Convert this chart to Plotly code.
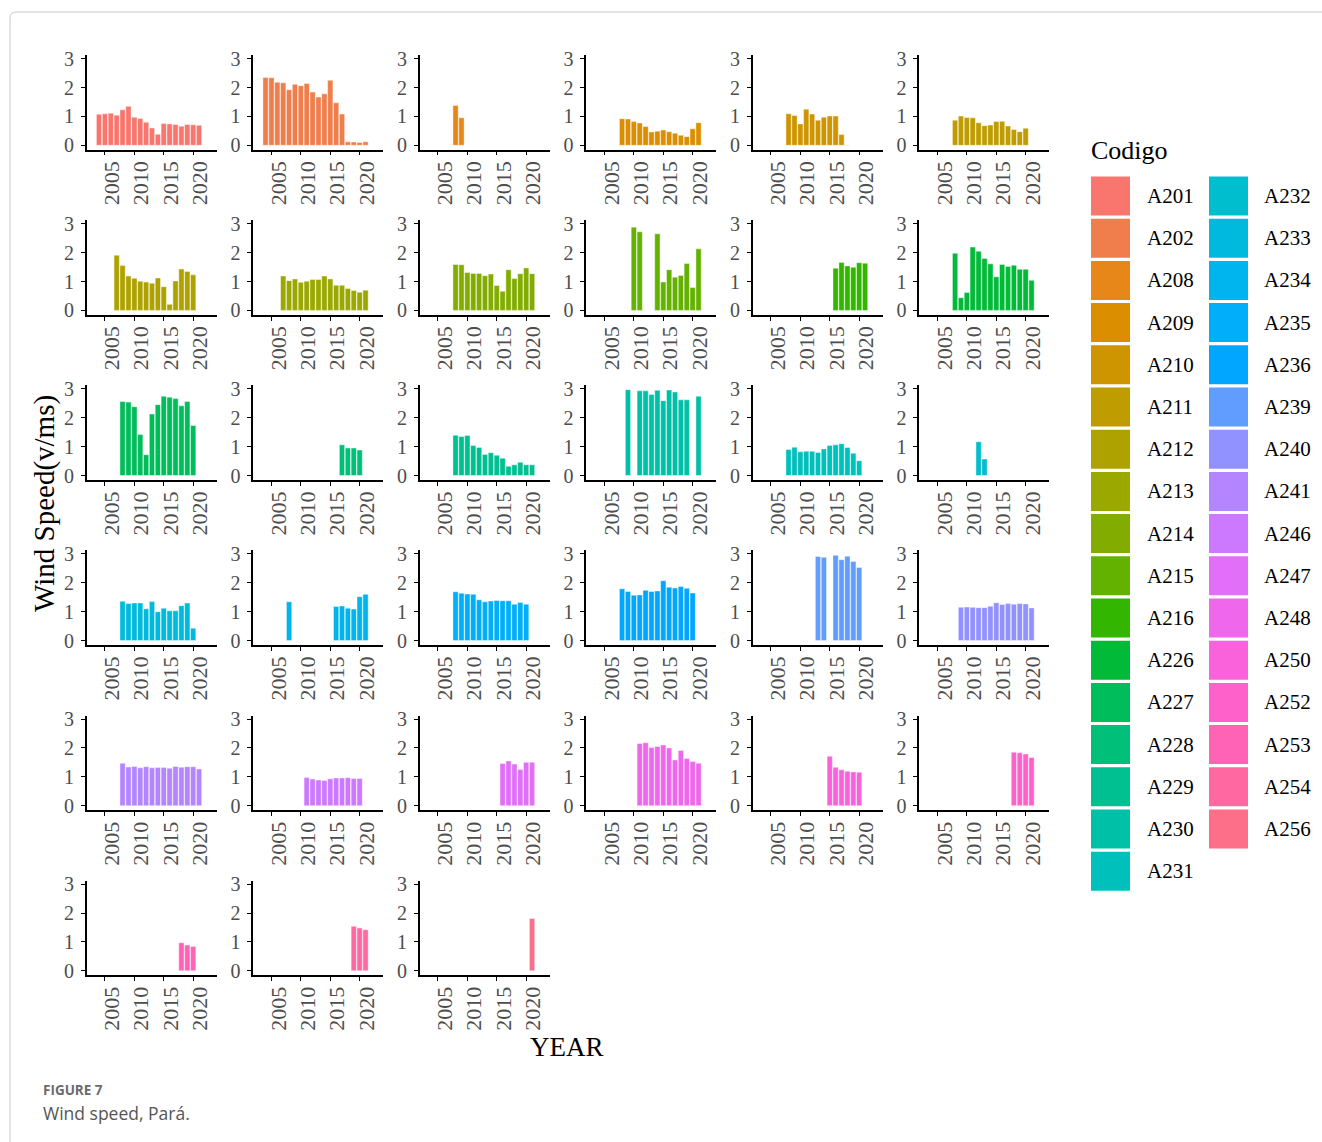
import math
import plotly.graph_objects as go

# ---- data: mean annual wind speed per station ----
codes = ["A201", "A202", "A208", "A209", "A210", "A211", "A212", "A213", "A214",
         "A215", "A216", "A226", "A227", "A228", "A229", "A230", "A231", "A232",
         "A233", "A234", "A235", "A236", "A239", "A240", "A241", "A246", "A247",
         "A248", "A250", "A252", "A253", "A254", "A256"]

A201_years = [2004, 2005, 2006, 2007, 2008, 2009, 2010, 2011, 2012, 2013, 2014, 2015, 2016, 2017, 2018, 2019, 2020, 2021]
A201_speed = [1.07, 1.09, 1.11, 1.04, 1.23, 1.35, 0.97, 0.93, 0.80, 0.60, 0.38, 0.75, 0.74, 0.72, 0.66, 0.72, 0.71, 0.69]
A202_years = [2004, 2005, 2006, 2007, 2008, 2009, 2010, 2011, 2012, 2013, 2014, 2015, 2016, 2017, 2018, 2019, 2020, 2021]
A202_speed = [2.35, 2.34, 2.18, 2.16, 1.92, 2.11, 2.06, 2.14, 1.84, 1.67, 1.78, 2.25, 1.47, 1.08, 0.12, 0.11, 0.10, 0.12]
A208_years = [2008, 2009]
A208_speed = [1.38, 0.95]
A209_years = [2008, 2009, 2010, 2011, 2012, 2013, 2014, 2015, 2016, 2017, 2018, 2019, 2020, 2021]
A209_speed = [0.92, 0.91, 0.82, 0.77, 0.65, 0.46, 0.49, 0.53, 0.47, 0.42, 0.35, 0.30, 0.57, 0.78]
A210_years = [2008, 2009, 2010, 2011, 2012, 2013, 2014, 2015, 2016, 2017, 2018]
A210_speed = [1.09, 1.03, 0.74, 1.25, 1.08, 0.87, 0.97, 1.01, 1.01, 0.37, 0.01]
A211_years = [2008, 2009, 2010, 2011, 2012, 2013, 2014, 2015, 2016, 2017, 2018, 2019, 2020]
A211_speed = [0.87, 1.01, 0.96, 0.95, 0.78, 0.68, 0.70, 0.82, 0.83, 0.67, 0.55, 0.47, 0.59]
A212_years = [2007, 2008, 2009, 2010, 2011, 2012, 2013, 2014, 2015, 2016, 2017, 2018, 2019, 2020]
A212_speed = [1.91, 1.55, 1.19, 1.11, 1.01, 0.98, 0.94, 1.12, 0.82, 0.21, 1.02, 1.43, 1.35, 1.23]
A213_years = [2007, 2008, 2009, 2010, 2011, 2012, 2013, 2014, 2015, 2016, 2017, 2018, 2019, 2020, 2021]
A213_speed = [1.19, 1.03, 1.09, 0.97, 1.01, 1.07, 1.07, 1.19, 1.09, 0.87, 0.87, 0.76, 0.69, 0.63, 0.70]
A214_years = [2008, 2009, 2010, 2011, 2012, 2013, 2014, 2015, 2016, 2017, 2018, 2019, 2020, 2021]
A214_speed = [1.59, 1.58, 1.31, 1.28, 1.28, 1.20, 1.26, 0.86, 0.66, 1.41, 1.10, 1.27, 1.47, 1.27]
A215_years = [2010, 2011, 2014, 2015, 2016, 2017, 2018, 2019, 2020, 2021]
A215_speed = [2.88, 2.72, 2.65, 0.98, 1.41, 1.15, 1.21, 1.62, 0.79, 2.13]
A216_years = [2016, 2017, 2018, 2019, 2020, 2021]
A216_speed = [1.46, 1.66, 1.54, 1.49, 1.65, 1.63]
A226_years = [2008, 2009, 2010, 2011, 2012, 2013, 2014, 2015, 2016, 2017, 2018, 2019, 2020, 2021]
A226_speed = [1.98, 0.44, 0.62, 2.19, 2.05, 1.80, 1.61, 1.16, 1.59, 1.52, 1.56, 1.42, 1.42, 1.04]
A227_years = [2008, 2009, 2010, 2011, 2012, 2013, 2014, 2015, 2016, 2017, 2018, 2019, 2020]
A227_speed = [2.56, 2.54, 2.38, 1.42, 0.72, 2.13, 2.45, 2.74, 2.71, 2.66, 2.41, 2.56, 1.73]
A228_years = [2017, 2018, 2019, 2020]
A228_speed = [1.06, 0.95, 0.95, 0.88]
A229_years = [2008, 2009, 2010, 2011, 2012, 2013, 2014, 2015, 2016, 2017, 2018, 2019, 2020, 2021]
A229_speed = [1.39, 1.35, 1.38, 1.04, 0.97, 0.73, 0.79, 0.70, 0.60, 0.32, 0.37, 0.46, 0.37, 0.37]
A230_years = [2009, 2011, 2012, 2013, 2014, 2015, 2016, 2017, 2018, 2019, 2021]
A230_speed = [2.97, 2.93, 2.93, 2.80, 2.95, 2.59, 2.96, 2.89, 2.62, 2.62, 2.74]
A231_years = [2008, 2009, 2010, 2011, 2012, 2013, 2014, 2015, 2016, 2017, 2018, 2019, 2020]
A231_speed = [0.90, 0.98, 0.82, 0.84, 0.84, 0.80, 0.92, 1.04, 1.06, 1.10, 0.97, 0.77, 0.51]
A232_years = [2012, 2013]
A232_speed = [1.17, 0.57]
A233_years = [2008, 2009, 2010, 2011, 2012, 2013, 2014, 2015, 2016, 2017, 2018, 2019, 2020]
A233_speed = [1.36, 1.28, 1.30, 1.30, 1.10, 1.35, 1.00, 1.12, 1.03, 1.03, 1.21, 1.30, 0.43]
A234_years = [2008, 2016, 2017, 2018, 2019, 2020, 2021]
A234_speed = [1.34, 1.18, 1.20, 1.12, 1.09, 1.52, 1.60]
A235_years = [2008, 2009, 2010, 2011, 2012, 2013, 2014, 2015, 2016, 2017, 2018, 2019, 2020]
A235_speed = [1.69, 1.64, 1.61, 1.60, 1.41, 1.34, 1.37, 1.39, 1.38, 1.38, 1.26, 1.32, 1.26]
A236_years = [2008, 2009, 2010, 2011, 2012, 2013, 2014, 2015, 2016, 2017, 2018, 2019, 2020]
A236_speed = [1.79, 1.70, 1.57, 1.58, 1.74, 1.70, 1.72, 2.07, 1.85, 1.82, 1.87, 1.81, 1.65]
A239_years = [2013, 2014, 2016, 2017, 2018, 2019, 2020]
A239_speed = [2.91, 2.88, 2.95, 2.80, 2.92, 2.74, 2.53]
A240_years = [2009, 2010, 2011, 2012, 2013, 2014, 2015, 2016, 2017, 2018, 2019, 2020, 2021]
A240_speed = [1.15, 1.16, 1.15, 1.14, 1.14, 1.19, 1.31, 1.25, 1.28, 1.26, 1.28, 1.27, 1.13]
A241_years = [2008, 2009, 2010, 2011, 2012, 2013, 2014, 2015, 2016, 2017, 2018, 2019, 2020, 2021]
A241_speed = [1.47, 1.34, 1.36, 1.31, 1.35, 1.31, 1.32, 1.32, 1.30, 1.36, 1.33, 1.35, 1.35, 1.27]
A246_years = [2011, 2012, 2013, 2014, 2015, 2016, 2017, 2018, 2019, 2020]
A246_speed = [0.98, 0.92, 0.89, 0.87, 0.93, 0.96, 0.96, 0.97, 0.94, 0.94]
A247_years = [2016, 2017, 2018, 2019, 2020, 2021]
A247_speed = [1.46, 1.55, 1.44, 1.25, 1.50, 1.50]
A248_years = [2011, 2012, 2013, 2014, 2015, 2016, 2017, 2018, 2019, 2020, 2021]
A248_speed = [2.15, 2.18, 2.01, 2.05, 2.10, 2.00, 1.58, 1.91, 1.63, 1.53, 1.47]
A250_years = [2015, 2016, 2017, 2018, 2019, 2020]
A250_speed = [1.71, 1.33, 1.24, 1.19, 1.17, 1.16]
A252_years = [2018, 2019, 2020, 2021]
A252_speed = [1.85, 1.83, 1.79, 1.67]
A253_years = [2018, 2019, 2020]
A253_speed = [0.97, 0.89, 0.84]
A254_years = [2019, 2020, 2021]
A254_speed = [1.54, 1.48, 1.42]
A256_years = [2021]
A256_speed = [1.81]

year_ticks = [2005, 2010, 2015, 2020]
speed_ticks = [0, 1, 2, 3]

series = {c: (globals()[c + "_years"], globals()[c + "_speed"]) for c in codes}


# ---- ggplot-style hue palette (HCL, c=100, l=65) ----
def hcl_to_hex(h, c=100.0, l=65.0):
    xn, yn, zn = 95.047, 100.0, 108.883
    hr = math.radians(h)
    u, v = c * math.cos(hr), c * math.sin(hr)
    y = yn * ((l + 16) / 116) ** 3 if l > 8 else yn * l / 903.3
    den = xn + 15 * yn + 3 * zn
    un, vn = 4 * xn / den, 9 * yn / den
    up, vp = u / (13 * l) + un, v / (13 * l) + vn
    x = 9 * y * up / (4 * vp)
    z = y * (12 - 3 * up - 20 * vp) / (4 * vp)
    x, y, z = x / 100, y / 100, z / 100
    rgb = [3.240479 * x - 1.537150 * y - 0.498535 * z,
           -0.969256 * x + 1.875992 * y + 0.041556 * z,
           0.055648 * x - 0.204043 * y + 1.057311 * z]
    out = []
    for ch in rgb:
        ch = 12.92 * ch if ch <= 0.0031308 else 1.055 * ch ** (1 / 2.4) - 0.055
        out.append(int(round(min(max(ch, 0), 1) * 255)))
    return "#%02X%02X%02X" % tuple(out)


n = len(codes)
palette = [hcl_to_hex((15 + 360 * i / n) % 360) for i in range(n)]

# ---- layout geometry (pixels) ----
W, H = 1322, 1142
SERIF = "Liberation Serif"
y_lo, y_hi = -0.15, 3.12
x_lo, x_hi = 2001.9, 2024.0
unit = 28.9            # px per m/s
col_left0, col_step, panel_w = 86.7, 166.5, 130.0
row_zero0, row_step = 145.3, 165.1


def px_x(p):
    return p / W


def px_y(p):
    return 1 - p / H


fig = go.Figure()
layout_axes = {}

for i, code in enumerate(codes):
    r, c = divmod(i, 6)
    k = "" if i == 0 else str(i + 1)
    yrs, spd = series[code]
    fig.add_trace(go.Bar(
        x=yrs, y=spd, width=0.9,
        marker=dict(color=palette[i], line=dict(color="rgba(255,255,255,0.7)", width=0.6)),
        xaxis="x" + k, yaxis="y" + k, showlegend=False, name=code,
    ))
    left = col_left0 + col_step * c
    zero = row_zero0 + row_step * r
    top = zero - y_hi * unit
    bottom = zero - y_lo * unit
    common = dict(showline=True, linecolor="black", linewidth=1.6, showgrid=False,
                  zeroline=False, ticks="outside", ticklen=4, tickwidth=1.4,
                  tickcolor="black", automargin=False)
    # vertical year labels sit just right of their tick (top-justified rotated text)
    layout_axes["xaxis" + k] = dict(
        domain=[px_x(left), px_x(left + panel_w)], anchor="y" + k,
        range=[x_lo, x_hi], tickvals=year_ticks, tickangle=-90,
        ticklabelstandoff=-3, ticklabelshift=7,
        tickfont=dict(family=SERIF, size=22, color="#4D4D4D"), **common)
    layout_axes["yaxis" + k] = dict(
        domain=[px_y(bottom), px_y(top)], anchor="x" + k,
        range=[y_lo, y_hi], tickvals=speed_ticks, ticklabelstandoff=3,
        tickfont=dict(family=SERIF, size=20, color="#4D4D4D"), **common)

fig.update_layout(**layout_axes)

# ---- legend: two columns of colour keys ----
shapes = []
annotations = []
key_x = [1091, 1209]
lab_x = [1145, 1262]
per_col = 17
for i, code in enumerate(codes):
    col, row = divmod(i, per_col)
    cy = 196 + 42.2 * row
    shapes.append(dict(type="rect", xref="paper", yref="paper",
                       x0=px_x(key_x[col]), x1=px_x(key_x[col] + 39),
                       y0=px_y(cy + 19.5), y1=px_y(cy - 19.5),
                       fillcolor=palette[i], line=dict(width=0)))
    annotations.append(dict(x=px_x(lab_x[col]), y=px_y(cy), xref="paper", yref="paper",
                            text=code, showarrow=False, xanchor="left", yanchor="middle",
                            font=dict(family=SERIF, size=21, color="black")))

annotations.append(dict(x=px_x(1089), y=px_y(150), xref="paper", yref="paper",
                        text="Codigo", showarrow=False, xanchor="left", yanchor="middle",
                        font=dict(family=SERIF, size=26, color="black")))

# axis titles
annotations.append(dict(x=px_x(567), y=px_y(1047), xref="paper", yref="paper",
                        text="YEAR", showarrow=False, xanchor="center", yanchor="middle",
                        font=dict(family=SERIF, size=27, color="black")))
annotations.append(dict(x=px_x(44), y=px_y(504), xref="paper", yref="paper",
                        text="Wind Speed(v/ms)", showarrow=False, textangle=-90,
                        xanchor="center", yanchor="middle",
                        font=dict(family=SERIF, size=29, color="black")))

# figure caption
annotations.append(dict(x=px_x(41), y=px_y(1090), xref="paper", yref="paper",
                        text="<b>FIGURE 7</b>", showarrow=False, xanchor="left", yanchor="middle",
                        font=dict(family="Open Sans", size=13.5, color="#6B6B6B")))
annotations.append(dict(x=px_x(41), y=px_y(1113), xref="paper", yref="paper",
                        text="Wind speed, Pará.", showarrow=False, xanchor="left", yanchor="middle",
                        font=dict(family="Open Sans", size=17.5, color="#555555")))

# thin frame around the figure block
shapes.append(dict(type="path", xref="paper", yref="paper",
                   path="M %f %f L %f %f Q %f %f %f %f L %f %f" % (
                       px_x(10), px_y(1142), px_x(10), px_y(18),
                       px_x(10), px_y(12), px_x(16), px_y(12), px_x(1322), px_y(12)),
                   line=dict(color="#C8C8C8", width=1)))

fig.update_layout(
    width=W, height=H, autosize=False,
    margin=dict(l=0, r=0, t=0, b=0, pad=0, autoexpand=False),
    paper_bgcolor="white", plot_bgcolor="white",
    shapes=shapes, annotations=annotations, showlegend=False,
)

fig.write_html("out.html")
